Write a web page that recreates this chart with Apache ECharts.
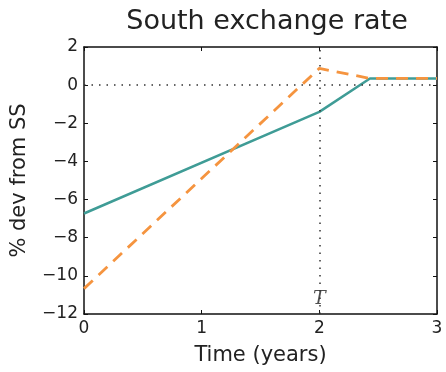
<!DOCTYPE html>
<html><head><meta charset="utf-8">
<script src="https://cdn.jsdelivr.net/npm/echarts@6/dist/echarts.min.js"></script>
<style>html,body{margin:0;padding:0;background:#fff}#c{width:446px;height:372px}</style>
</head><body><div id="c"></div>
<script>
var timeTeal = [0, 2, 2.43, 3];
var valTeal = [-6.73, -1.40, 0.35, 0.35];
var timeOrange = [0, 2, 2.43, 3];
var valOrange = [-10.67, 0.88, 0.35, 0.35];
var xTicks = [0, 1, 2, 3];
var yTicks = [-12, -10, -8, -6, -4, -2, 0, 2];
var markT = {x: 2, y: -11.2, text: 'T'};

function pairs(xs, ys){ return xs.map(function(x,i){ return [x, ys[i]]; }); }
var font = 'DejaVu Sans';
var chart = echarts.init(document.getElementById('c'));
function axisCommon(){
  return {
    axisLine: {show: true, onZero: false, lineStyle: {color: '#111', width: 1.5}},
    axisTick: {show: true, inside: true, length: 4, lineStyle: {color: '#111', width: 1}},
    splitLine: {show: false}
  };
}
chart.setOption({
  animation: false,
  title: {text: 'South exchange rate', left: 262, textAlign: 'center', top: 3,
    textStyle: {fontFamily: font, fontWeight: 'normal', fontSize: 27, color: '#222'}},
  grid: {left: 84, right: 9, top: 47, bottom: 58},
  xAxis: [
    Object.assign({type: 'value', min: xTicks[0], max: xTicks[xTicks.length-1], interval: 1, position: 'bottom',
      name: 'Time (years)', nameLocation: 'middle', nameGap: 31,
      nameTextStyle: {fontFamily: font, fontSize: 21, color: '#222'},
      axisLabel: {fontFamily: font, fontSize: 17, color: '#222', margin: 6}}, axisCommon()),
    Object.assign({type: 'value', min: xTicks[0], max: xTicks[xTicks.length-1], interval: 1, position: 'top',
      axisLabel: {show: false}}, axisCommon())
  ],
  yAxis: [
    Object.assign({type: 'value', min: yTicks[0], max: yTicks[yTicks.length-1], interval: 2, position: 'left',
      name: '% dev from SS', nameLocation: 'middle', nameGap: 54,
      nameTextStyle: {fontFamily: font, fontSize: 21, color: '#222'},
      axisLabel: {fontFamily: font, fontSize: 17, color: '#222', margin: 6,
        formatter: function(v){ return String(v).replace('-', '\u2212'); }}}, axisCommon()),
    Object.assign({type: 'value', min: yTicks[0], max: yTicks[yTicks.length-1], interval: 2, position: 'right',
      axisLabel: {show: false}}, axisCommon())
  ],
  series: [
    {type: 'line', data: pairs(timeTeal, valTeal), symbol: 'none', z: 3,
      lineStyle: {color: '#3f9c96', width: 2.5},
      markLine: {silent: true, symbol: 'none', label: {show: false},
        lineStyle: {color: '#333', type: [1.5, 6], width: 1.5},
        data: [{yAxis: 0}, {xAxis: 2}]}},
    {type: 'line', data: pairs(timeOrange, valOrange), symbol: 'none', z: 4,
      lineStyle: {color: '#f5943f', width: 2.8, type: [12, 8]}},
    {type: 'scatter', data: [[markT.x, markT.y]], symbolSize: 0, silent: true,
      label: {show: true, position: 'inside', formatter: markT.text,
        fontFamily: 'DejaVu Serif', fontStyle: 'italic', fontSize: 19, color: '#222'}}
  ]
});
</script></body></html>
